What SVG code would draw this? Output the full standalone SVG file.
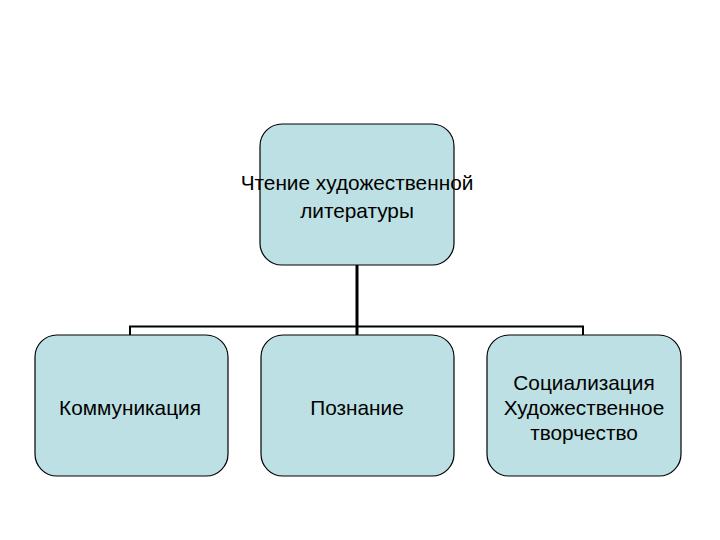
<svg xmlns="http://www.w3.org/2000/svg" width="720" height="540" viewBox="0 0 720 540">
<style>
.box{fill:#bce0e3;stroke:#000;stroke-width:1.2}
.t{font-family:"Liberation Sans",Arial,sans-serif;font-size:20.8px;fill:#000;text-anchor:middle}
.c{stroke:#000;fill:none}
</style>
<rect width="720" height="540" fill="#fff"/>
<g id="connectors">
<line class="c" x1="357" y1="265" x2="357" y2="335" stroke-width="3"/>
<polyline class="c" points="130,335 130,326.5 583,326.5 583,335" stroke-width="2"/>
</g>
<g id="root">
<rect class="box" x="260" y="124" width="194" height="141" rx="22"/>
<text class="t" x="357" y="190">Чтение художественной</text>
<text class="t" x="357" y="218">литературы</text>
</g>
<g id="n1">
<rect class="box" x="35" y="335" width="193" height="141" rx="22"/>
<text class="t" x="130" y="415">Коммуникация</text>
</g>
<g id="n2">
<rect class="box" x="261" y="335" width="193" height="141" rx="22"/>
<text class="t" x="357" y="415">Познание</text>
</g>
<g id="n3">
<rect class="box" x="487" y="335" width="194" height="141" rx="22"/>
<text class="t" x="584" y="390">Социализация</text>
<text class="t" x="584" y="415">Художественное</text>
<text class="t" x="584" y="440">творчество</text>
</g>
</svg>
